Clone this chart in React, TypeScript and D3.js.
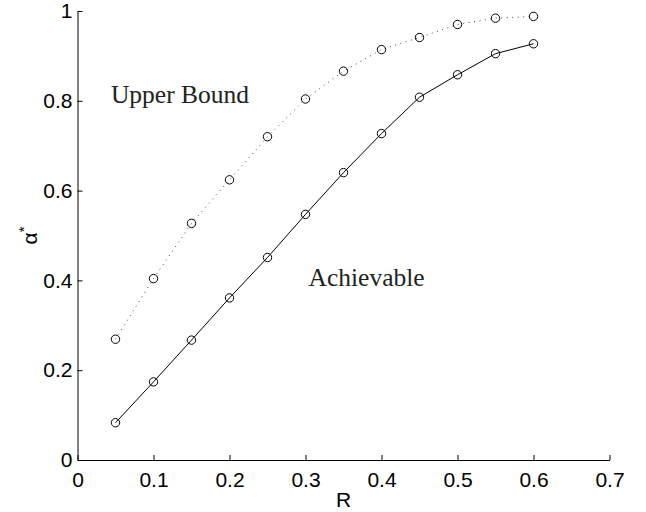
import { useEffect, useRef } from 'react';
import * as d3 from 'd3';

const rates = [0.05, 0.1, 0.15, 0.2, 0.25, 0.3, 0.35, 0.4, 0.45, 0.5, 0.55, 0.6];
const upperBound = [0.269, 0.404, 0.527, 0.624, 0.72, 0.804, 0.866, 0.914, 0.941, 0.97, 0.984, 0.988];
const achievable = [0.083, 0.174, 0.267, 0.361, 0.451, 0.547, 0.64, 0.727, 0.808, 0.858, 0.905, 0.927];
const xTicks = [0, 0.1, 0.2, 0.3, 0.4, 0.5, 0.6, 0.7];
const yTicks = [0, 0.2, 0.4, 0.6, 0.8, 1];
const notes = [
  { text: 'Upper Bound', x: 0.044, y: 0.794 },
  { text: 'Achievable', x: 0.304, y: 0.3875 },
];

export default function App() {
  const svgRef = useRef<SVGSVGElement>(null);

  useEffect(() => {
    if (!svgRef.current) return;
    const W = 646, H = 512;
    const M = { top: 11, right: 36.5, bottom: 52, left: 77.5 };

    const svg = d3.select(svgRef.current).attr('width', W).attr('height', H);
    svg.selectAll('*').remove();

    const x = d3.scaleLinear().domain([0, 0.7]).range([M.left, W - M.right]);
    const y = d3.scaleLinear().domain([0, 1]).range([H - M.bottom, M.top]);
    const sans = 'Liberation Sans, Arial, sans-serif';
    const serif = 'Liberation Serif, Times New Roman, serif';

    // Axes (MATLAB style, ticks pointing inward)
    svg.append('g').attr('transform', `translate(0,${H - M.bottom})`)
      .call(d3.axisBottom(x).tickValues(xTicks).tickSizeInner(-5).tickSizeOuter(0).tickPadding(12)
        .tickFormat(d => d3.format('~g')(+d)))
      .call(g => g.selectAll('text').style('font-family', sans).style('font-size', '21px').style('fill', '#000'));
    svg.append('g').attr('transform', `translate(${M.left},0)`)
      .call(d3.axisLeft(y).tickValues(yTicks).tickSizeInner(-5).tickSizeOuter(0).tickPadding(5)
        .tickFormat(d => d3.format('~g')(+d)))
      .call(g => g.selectAll('text').style('font-family', sans).style('font-size', '21px').style('fill', '#000'));
    svg.selectAll('.domain').style('stroke', '#000');
    svg.selectAll('.tick line').style('stroke', '#000');

    // Axis labels
    svg.append('text').attr('x', (M.left + W - M.right) / 2).attr('y', 507)
      .attr('text-anchor', 'middle').style('font-family', sans).style('font-size', '21px').text('R');
    const yl = svg.append('text')
      .attr('transform', `translate(37,${(M.top + H - M.bottom) / 2}) rotate(-90)`)
      .attr('text-anchor', 'middle').style('font-family', sans).style('font-size', '21px');
    yl.append('tspan').text('α');
    yl.append('tspan').attr('dy', -8).style('font-size', '15px').text('*');

    const line = d3.line<number>().x((_, i) => x(rates[i])).y(d => y(d));

    svg.append('path').datum(upperBound).attr('d', line)
      .style('fill', 'none').style('stroke', '#444').style('stroke-width', 1)
      .style('stroke-dasharray', '1,4.5');
    svg.append('path').datum(achievable).attr('d', line)
      .style('fill', 'none').style('stroke', '#000').style('stroke-width', 1);

    for (const series of [upperBound, achievable]) {
      svg.append('g').selectAll('circle').data(series).join('circle')
        .attr('cx', (_, i) => x(rates[i])).attr('cy', d => y(d)).attr('r', 4.2)
        .style('fill', 'none').style('stroke', '#000').style('stroke-width', 1);
    }

    for (const n of notes) {
      svg.append('text').attr('x', x(n.x)).attr('y', y(n.y))
        .style('font-family', serif).style('font-size', '25.5px').style('fill', '#222').text(n.text);
    }
  }, []);

  return (
    <div style={{ position: 'absolute', left: 0, top: 0, background: '#fff' }}>
      <svg ref={svgRef} />
    </div>
  );
}
